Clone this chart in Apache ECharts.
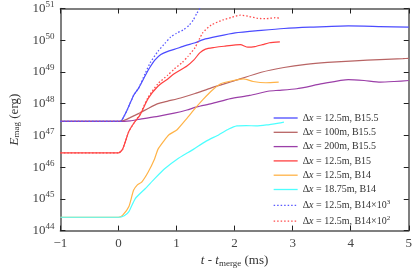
<!DOCTYPE html>
<html><head><meta charset="utf-8">
<script src="https://cdn.jsdelivr.net/npm/echarts@6/dist/echarts.min.js"></script>
<style>html,body{margin:0;padding:0;background:#fff}#c{width:415px;height:273px}</style>
</head><body><div id="c"></div>
<script>
// x-axis ticks and y decades
const xTicks = [-1, 0, 1, 2, 3, 4, 5];
const yExpMin = 44, yExpMax = 51;

// Series names
const names = [
  'Δx = 12.5m, B15.5',
  'Δx = 100m, B15.5',
  'Δx = 200m, B15.5',
  'Δx = 12.5m, B15',
  'Δx = 12.5m, B14',
  'Δx = 18.75m, B14',
  'Δx = 12.5m, B14×10^3',
  'Δx = 12.5m, B14×10^2'
];

// values: t - t_merge (ms), log10(E_mag / erg)
const blueT    = [-1,0,0.05,0.15,0.26,0.35,0.46,0.54,0.63,0.73,0.85,0.96,1.15,1.32,1.46,1.7,2.01,2.46,2.85,3.3,3.96,4.5,5.0];
const blueLogE = [47.44,47.44,47.46,47.8,48.26,48.5,48.88,49.14,49.38,49.55,49.65,49.71,49.83,49.92,50.02,50.12,50.23,50.31,50.37,50.41,50.45,50.43,50.41];

const brownT    = [-1,0,0.05,0.12,0.2,0.29,0.4,0.51,0.68,0.85,1.07,1.32,1.6,2.01,2.46,2.85,3.23,3.6,4.07,4.5,4.9,5.0];
const brownLogE = [47.44,47.44,47.45,47.49,47.56,47.64,47.74,47.85,48.0,48.08,48.18,48.32,48.5,48.73,48.99,49.14,49.24,49.3,49.35,49.39,49.42,49.43];

const purpleT    = [-1,0,0.2,0.4,0.68,0.96,1.18,1.35,1.6,1.93,2.26,2.6,2.76,3.07,3.51,3.96,4.23,4.51,4.75,5.0];
const purpleLogE = [47.44,47.44,47.46,47.52,47.6,47.7,47.8,47.9,48.0,48.16,48.26,48.4,48.42,48.47,48.63,48.76,48.73,48.68,48.7,48.73];

const redT    = [-1,0,0.07,0.18,0.27,0.37,0.51,0.68,0.85,0.96,1.18,1.3,1.4,1.5,1.65,1.82,2.1,2.23,2.35,2.48,2.6,2.78];
const redLogE = [46.45,46.45,46.56,47.13,47.4,47.64,48.16,48.55,48.78,48.94,49.19,49.38,49.6,49.72,49.77,49.81,49.86,49.78,49.8,49.86,49.92,49.95];

const orangeT    = [-1,0,0.07,0.18,0.26,0.33,0.4,0.51,0.62,0.68,0.78,0.87,1.01,1.18,1.32,1.45,1.6,1.76,1.98,2.15,2.32,2.54,2.76];
const orangeLogE = [44.42,44.42,44.48,44.76,45.27,45.45,45.53,45.84,46.25,46.56,46.82,47.02,47.18,47.54,47.85,48.12,48.4,48.63,48.73,48.78,48.7,48.66,48.68];

const cyanT    = [-1,0,0.1,0.18,0.29,0.46,0.62,0.79,1.01,1.29,1.51,1.73,1.9,2.04,2.2,2.37,2.55,2.76,2.85];
const cyanLogE = [44.42,44.42,44.47,44.6,45.01,45.32,45.63,45.94,46.25,46.56,46.82,47.02,47.2,47.3,47.31,47.3,47.33,47.39,47.42];

const blueDotT    = [-1,0,0.05,0.15,0.26,0.35,0.46,0.55,0.68,0.8,0.9,1.0,1.12,1.22,1.29,1.35,1.41];
const blueDotLogE = [47.44,47.44,47.46,47.8,48.26,48.5,48.95,49.3,49.65,49.9,50.1,50.22,50.33,50.48,50.64,50.85,51.02];

const redDotT    = [-1,0,0.07,0.18,0.27,0.37,0.51,0.68,0.85,0.96,1.1,1.2,1.32,1.45,1.6,1.8,1.95,2.1,2.25,2.4,2.55,2.7,2.79];
const redDotLogE = [46.45,46.45,46.56,47.13,47.4,47.66,48.2,48.63,48.9,49.09,49.3,49.5,49.77,50.23,50.48,50.64,50.72,50.79,50.75,50.69,50.68,50.71,50.69];

const colors = ['#4b4bff','#b86464','#9b3fa8','#ff4040','#ffb347','#4dffff','#5a5aff','#ff4a4a'];
const seriesT = [blueT, brownT, purpleT, redT, orangeT, cyanT, blueDotT, redDotT];
const seriesL = [blueLogE, brownLogE, purpleLogE, redLogE, orangeLogE, cyanLogE, blueDotLogE, redDotLogE];
const dotted = [false,false,false,false,false,false,true,true];

const FONT = '"Liberation Serif", "DejaVu Serif", serif';

function toPairs(ts, ls) { return ts.map((t, i) => [t, Math.pow(10, ls[i])]); }

const series = names.map((n, k) => ({
  name: n, type: 'line', symbol: 'none', smooth: 0.2,
  data: toPairs(seriesT[k], seriesL[k]),
  xAxisIndex: 0, yAxisIndex: 0,
  lineStyle: { color: colors[k], width: dotted[k] ? 1.3 : 1.2, type: dotted[k] ? [1.5, 2] : 'solid' },
  itemStyle: { color: colors[k] },
  z: dotted[k] ? 3 : 2
}));

function legendFmt(n) {
  let s = n.replace('Δx', '{n|Δ}{i|x}{n|');
  if (s.indexOf('^') >= 0) {
    const parts = s.split('^');
    s = parts[0] + '}{sup|' + parts[1] + '}';
  } else s += '}';
  return s;
}

const chart = echarts.init(document.getElementById('c'), null, { renderer: 'canvas' });
chart.setOption({
  animation: false,
  backgroundColor: '#fff',
  grid: { left: 49, right: 6, top: 8, bottom: 39, containLabel: false },
  legend: {
    orient: 'vertical', left: 273, top: 113,
    itemWidth: 24, itemHeight: 10, itemGap: 4.3,
    padding: 0,
    data: names,
    formatter: legendFmt,
    itemStyle: { opacity: 0 },
    lineStyle: { width: 1.3 },
    textStyle: {
      fontFamily: FONT, fontSize: 10, color: '#333',
      rich: {
        n: { fontFamily: FONT, fontSize: 10, color: '#333' },
        i: { fontFamily: FONT, fontSize: 10, fontStyle: 'italic', color: '#333' },
        sup: { fontFamily: FONT, fontSize: 7, color: '#333', padding: [0, 0, 6, 0] }
      }
    }
  },
  xAxis: [
    {
      type: 'value', min: xTicks[0], max: xTicks[xTicks.length - 1], interval: 1,
      position: 'bottom',
      name: '{i|t} - {i|t}{sub|merge} (ms)', nameLocation: 'middle', nameGap: 21,
      nameTextStyle: {
        fontFamily: FONT, fontSize: 13, color: '#333',
        rich: {
          i: { fontFamily: FONT, fontSize: 13, fontStyle: 'italic', color: '#333' },
          sub: { fontFamily: FONT, fontSize: 9, color: '#333', padding: [5, 0, 0, 0] }
        }
      },
      axisLine: { onZero: false, lineStyle: { color: '#555', width: 1.5 } },
      axisTick: { inside: true, length: 5, lineStyle: { color: '#222', width: 1 } },
      axisLabel: { margin: 6, fontFamily: FONT, fontSize: 13, color: '#444',
        formatter: v => (v < 0 ? '\u2212' + Math.abs(v) : '' + v) },
      splitLine: { show: false }
    },
    {
      type: 'value', min: xTicks[0], max: xTicks[xTicks.length - 1], interval: 1,
      position: 'top',
      axisLine: { onZero: false, lineStyle: { color: '#555', width: 1.5 } },
      axisTick: { inside: true, length: 5, lineStyle: { color: '#222', width: 1 } },
      axisLabel: { show: false }, splitLine: { show: false }
    }
  ],
  yAxis: [
    {
      type: 'log', logBase: 10, min: Math.pow(10, yExpMin), max: Math.pow(10, yExpMax),
      splitNumber: 7, position: 'left',
      name: '{i|E}{sub|mag} (erg)', nameLocation: 'middle', nameGap: 36, nameRotate: 90,
      nameTextStyle: {
        fontFamily: FONT, fontSize: 13, color: '#333',
        rich: {
          i: { fontFamily: FONT, fontSize: 13, fontStyle: 'italic', color: '#333' },
          sub: { fontFamily: FONT, fontSize: 9, color: '#333', padding: [5, 0, 0, 0] }
        }
      },
      axisLine: { onZero: false, lineStyle: { color: '#555', width: 1.5 } },
      axisTick: { inside: true, length: 5, lineStyle: { color: '#222', width: 1 } },
      minorTick: { show: false },
      axisLabel: {
        margin: 6, fontFamily: FONT, fontSize: 13, color: '#444',
        formatter: v => '{b|10}{s|' + Math.round(Math.log10(v)) + '}',
        rich: {
          b: { fontFamily: FONT, fontSize: 13, color: '#444' },
          s: { fontFamily: FONT, fontSize: 9, color: '#444', padding: [0, 0, 8, 0] }
        }
      },
      splitLine: { show: false }
    },
    {
      type: 'log', logBase: 10, min: Math.pow(10, yExpMin), max: Math.pow(10, yExpMax),
      splitNumber: 7, position: 'right',
      axisLine: { onZero: false, lineStyle: { color: '#555', width: 1.5 } },
      axisTick: { inside: true, length: 5, lineStyle: { color: '#222', width: 1 } },
      axisLabel: { show: false }, splitLine: { show: false }
    }
  ],
  series: series
});
</script></body></html>
